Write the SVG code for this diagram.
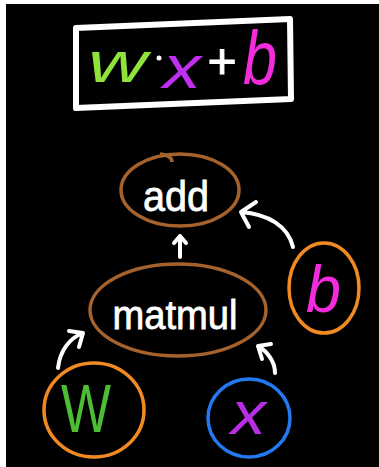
<svg xmlns="http://www.w3.org/2000/svg" width="379" height="467" viewBox="0 0 379 467">
<style>
.hand{font-family:"Liberation Sans","DejaVu Sans",sans-serif;}
.lbl{fill:#ffffff;stroke:#ffffff;stroke-width:0.8;text-anchor:middle;}
.node{fill:none;stroke-width:3.5;}
.brown{stroke:#A5622C;}
.orange{stroke:#F28A22;}
.blue{stroke:#2379F0;}
.conn{fill:none;stroke:#ffffff;stroke-width:4;stroke-linecap:round;stroke-linejoin:round;}
</style>
<rect x="0" y="0" width="379" height="467" fill="#ffffff"/>
<rect x="6" y="4" width="373" height="463" fill="#000000"/>

<g id="formula">
<path d="M76 28 L290 19 L291 99 L76 108 Z" fill="none" stroke="#ffffff" stroke-width="6" stroke-linejoin="round"/>
<text class="hand" x="88" y="82" font-size="58" font-style="italic" fill="#8FE33A" textLength="59" lengthAdjust="spacingAndGlyphs">w</text>
<circle cx="159" cy="58" r="2.5" fill="#ffffff"/>
<text class="hand" x="163" y="88" font-size="62" font-style="italic" fill="#C02EF0" textLength="38" lengthAdjust="spacingAndGlyphs">x</text>
<text class="hand" x="222" y="78" font-size="50" fill="#ffffff" stroke="#ffffff" stroke-width="1" text-anchor="middle">+</text>
<text class="hand" x="243" y="84" font-size="76" font-style="italic" fill="#F22BDC" textLength="34" lengthAdjust="spacingAndGlyphs">b</text>
</g>

<g id="connectors">
<path class="conn" d="M180 257 L180 236 M174 243 L180 236 L186 243"/>
<path class="conn" d="M293 247 C288 226 268 214 241 212 M256 202 L241 212 L249 227"/>
<path class="conn" d="M58 368 C60 350 70 338 83 333 M69 331 L83 333 L79 347"/>
<path class="conn" d="M275 373 C275 362 268 352 258 346 M271 344 L258 346 L262 359"/>
</g>

<g id="add">
<ellipse class="node brown" cx="180" cy="190" rx="59" ry="36"/>
<path class="node brown" d="M160 154 C168 155 172 157 172 162"/>
<text class="hand lbl" x="176" y="211" font-size="42" textLength="66" lengthAdjust="spacingAndGlyphs">add</text>
</g>

<g id="matmul">
<ellipse class="node brown" cx="178" cy="310" rx="88" ry="46"/>
<text class="hand lbl" x="175" y="329" font-size="40" textLength="125" lengthAdjust="spacingAndGlyphs">matmul</text>
</g>

<g id="b">
<ellipse class="node orange" cx="324" cy="288" rx="35" ry="45"/>
<text class="hand" x="306" y="312" font-size="66" font-style="italic" fill="#F22BDC" textLength="35" lengthAdjust="spacingAndGlyphs">b</text>
</g>

<g id="W">
<ellipse class="node orange" cx="94" cy="410" rx="50" ry="47"/>
<text class="hand" x="86" y="432" font-size="68" fill="#4DBD34" text-anchor="middle" textLength="50" lengthAdjust="spacingAndGlyphs">W</text>
</g>

<g id="x">
<ellipse class="node blue" cx="249" cy="418" rx="41" ry="39"/>
<text class="hand" x="231" y="434" font-size="62" font-style="italic" fill="#B82EE6" textLength="35" lengthAdjust="spacingAndGlyphs">x</text>
</g>
</svg>
